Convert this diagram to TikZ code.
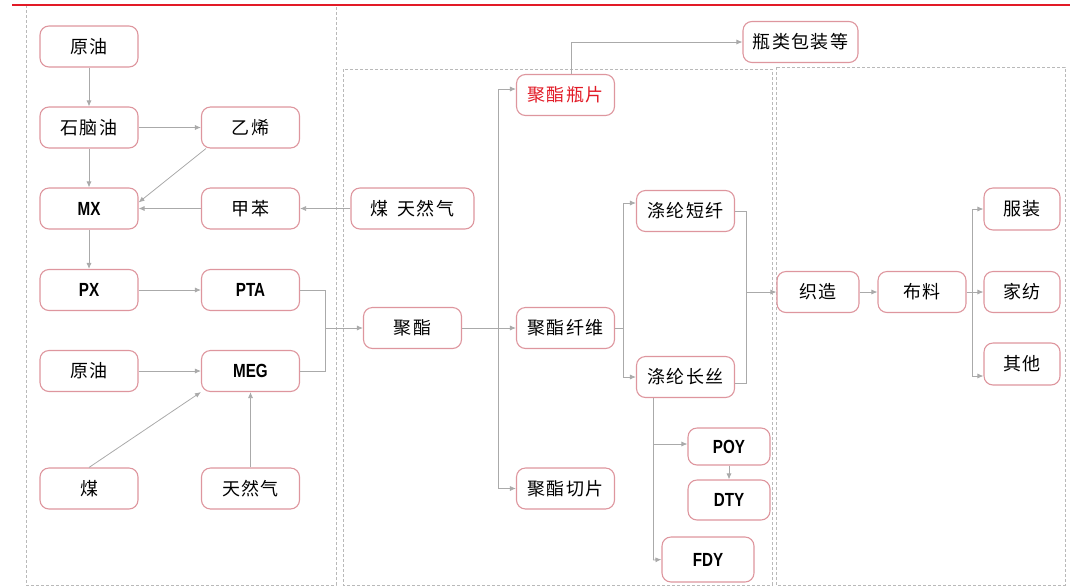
\documentclass[tikz,border=0pt]{standalone}
\usepackage{fontspec}
\usetikzlibrary{arrows.meta,calc}
\newfontfamily\cnf{Noto Sans CJK SC}[LetterSpace=8]
\newfontfamily\latf{Liberation Sans}[FakeStretch=0.8]
\definecolor{boxc}{RGB}{222,150,158}
\definecolor{linec}{RGB}{170,170,170}
\definecolor{dashc}{RGB}{185,185,185}
\definecolor{redc}{RGB}{226,26,38}
\newcommand{\La}[1]{{\fontsize{19}{22}\selectfont\latf\bfseries #1}}
\begin{document}
\begin{tikzpicture}[x=1pt,y=-1pt,
  box/.style={draw=boxc, line width=1.1pt, rounded corners=9pt, fill=white, inner sep=0pt,
    minimum width=98pt, minimum height=41pt, font=\fontsize{18}{21}\selectfont\cnf},
  arr/.style={draw=linec, line width=0.8pt, -{Latex[length=6pt,width=5pt]}},
  ln/.style={draw=linec, line width=0.8pt},
  dbox/.style={draw=dashc, line width=0.7pt, dash pattern=on 3pt off 2pt}]
\useasboundingbox (0,0) rectangle (1078,587);
% dashed regions
\draw[dbox] (26,5) rectangle (336,585);
\draw[dbox] (343,69) rectangle (772,585);
\draw[dbox] (776,67) rectangle (1065,585);
\draw[redc, line width=2pt] (12,5) -- (1070,5);
% left column
\node[box] (oil1) at (89,46.5) {原油};
\node[box] (naph) at (89,127.5) {石脑油};
\node[box] (mx) at (89,208.5) {\La{MX}};
\node[box] (px) at (89,290) {\La{PX}};
\node[box] (oil2) at (89,371) {原油};
\node[box] (coal) at (89,488.5) {煤};
% second column
\node[box] (eth) at (250.5,127.5) {乙烯};
\node[box] (tol) at (250.5,208.5) {甲苯};
\node[box] (pta) at (250.5,290) {\La{PTA}};
\node[box] (meg) at (250.5,371) {\La{MEG}};
\node[box] (gas) at (250.5,488.5) {天然气};
\node[box, minimum width=123pt] (cg) at (412.5,208.5) {煤\hspace{9pt}天然气};
\node[box] (pet) at (412.5,328) {聚酯};
% middle
\node[box, text=redc] (bottle) at (565.5,95) {聚酯瓶片};
\node[box, minimum width=115pt] (pack) at (800.5,42) {瓶类包装等};
\node[box] (fiber) at (565.5,328) {聚酯纤维};
\node[box] (chip) at (565.5,488.5) {聚酯切片};
\node[box] (psf) at (685.5,211) {涤纶短纤};
\node[box] (pfy) at (685.5,377) {涤纶长丝};
\node[box, minimum width=82pt, minimum height=37pt] (poy) at (729,446.5) {\La{POY}};
\node[box, minimum width=82pt, minimum height=40pt] (dty) at (729,500) {\La{DTY}};
\node[box, minimum width=92pt, minimum height=45pt] (fdy) at (708,559.5) {\La{FDY}};
% right
\node[box, minimum width=82pt] (weave) at (818,292) {织造};
\node[box, minimum width=88pt] (cloth) at (922,292) {布料};
\node[box, minimum width=76pt, minimum height=42pt] (app) at (1022,209) {服装};
\node[box, minimum width=76pt] (home) at (1022,292) {家纺};
\node[box, minimum width=76pt, minimum height=42pt] (other) at (1022,364) {其他};
% coordinates
\coordinate (j1) at (325,328);
\coordinate (tTop) at (498,89);
\coordinate (tBot) at (498,488.5);
\coordinate (f1) at (623,328);
\coordinate (w1) at (746,292);
\coordinate (p2) at (653,444);
\coordinate (p3) at (653,560);
\coordinate (c1) at (972,292);
% left connectors
\draw[arr] (oil1) -- (naph);
\draw[arr] (naph) -- (eth);
\draw[arr] (naph) -- (mx);
\draw[arr] ([xshift=5pt]eth.south west) -- ([yshift=6pt]mx.east);
\draw[arr] (tol) -- (mx);
\draw[arr] (cg) -- (tol);
\draw[arr] (mx) -- (px);
\draw[arr] (px) -- (pta);
\draw[arr] (oil2) -- (meg);
\draw[arr] (coal.north) -- (meg.south west);
\draw[arr] (gas) -- (meg);
\draw[ln] (pta.east) -| (j1);
\draw[ln] (meg.east) -| (j1);
\draw[arr] (j1) -- (pet);
% middle connectors
\draw[ln] (tTop) -- (tBot);
\draw[arr] (pet) -- (fiber);
\draw[arr] (tTop) -- ([yshift=6pt]bottle.west);
\draw[arr] (tBot) -- (chip.west);
\draw[arr] ([xshift=5.5pt]bottle.north) |- (pack.west);
\draw[ln] (fiber.east) -- (f1);
\draw[arr] (f1) |- ([yshift=8pt]psf.west);
\draw[arr] (f1) |- (pfy.west);
\draw[ln] (psf.east) -| (w1);
\draw[ln] ([yshift=-6pt]pfy.east) -| (w1);
\draw[arr] (w1) -- (weave.west);
\draw[ln] ([xshift=-32.5pt]pfy.south) -- (p3);
\draw[arr] (p2) -- (p2 -| poy.west);
\draw[arr] (p3) -- (fdy.west);
\draw[arr] (poy) -- (dty);
% right connectors
\draw[arr] (weave) -- (cloth);
\draw[ln] (cloth.east) -- (c1);
\draw[arr] (c1) |- (app.west);
\draw[arr] (c1) -- (home.west);
\draw[arr] (c1) |- ([yshift=-12pt]other.west);
\end{tikzpicture}
\end{document}
